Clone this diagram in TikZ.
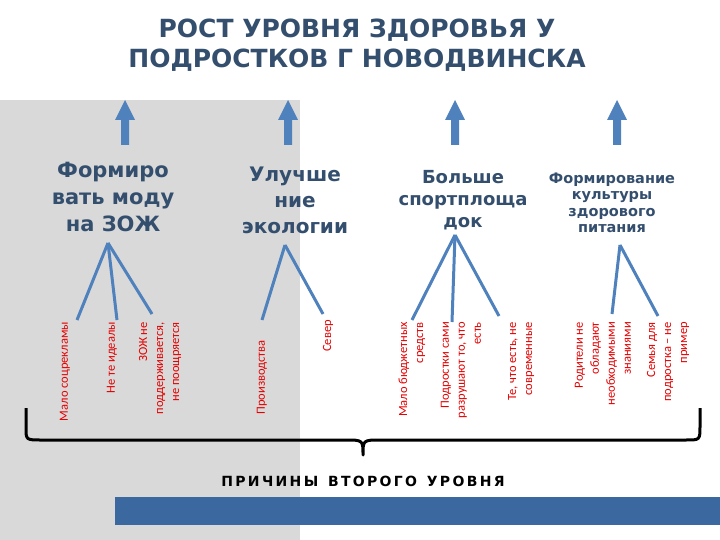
\documentclass[tikz,border=0pt]{standalone}
\usepackage{fontspec}
\setmainfont{Carlito}
\newfontfamily\hd{DejaVu Sans}
\definecolor{hc}{RGB}{52,78,110}
\definecolor{ac}{RGB}{79,129,189}
\definecolor{bc}{RGB}{60,104,160}
\begin{document}
\begin{tikzpicture}[x=1pt,y=-1pt,
  lbl/.style={rotate=90,anchor=east,align=right,text=red!90!black,font=\fontsize{12.5}{16}\selectfont,inner sep=0pt},
  hdg/.style={align=center,text=hc,font=\hd\bfseries,inner sep=0pt},
  cn/.style={draw=ac,line width=3pt},
  up/.style={fill=ac,draw=none}]
\useasboundingbox (0,0) rectangle (720,540);
\fill[black!15] (0,100) rectangle (300,540);
\fill[bc] (115,497) rectangle (720,525);
\node[hdg,font=\hd\bfseries\fontsize{25}{30}\selectfont] (title) at (357,45) {РОСТ УРОВНЯ ЗДОРОВЬЯ У\\ПОДРОСТКОВ Г НОВОДВИНСКА};
\foreach \x in {125,288,455,617}{
 \fill[up] (\x-4,145) -- (\x-4,120) -- (\x-10,120) -- (\x,100) -- (\x+10,120) -- (\x+4,120) -- (\x+4,145) -- cycle;}
\node[hdg,font=\hd\bfseries\fontsize{21}{27}\selectfont] (h1) at (113,197) {Формиро\\вать моду\\на ЗОЖ};
\node[hdg,font=\hd\bfseries\fontsize{20}{26}\selectfont] (h2) at (295,200) {Улучше\\ние\\экологии};
\node[hdg,font=\hd\bfseries\fontsize{18}{22}\selectfont] (h3) at (463,200) {Больше\\спортплоща\\док};
\node[hdg,font=\hd\bfseries\fontsize{14.5}{16.5}\selectfont] (h4) at (612,203) {Формирование\\культуры\\здорового\\питания};
\node[lbl] (a1) at (65,322) {Мало соцрекламы};
\node[lbl] (a2) at (112,322) {Не те идеалы};
\node[lbl] (a3) at (160,322) {ЗОЖ не\\поддерживается,\\не поощряется};
\node[lbl] (a4) at (262,340) {Производства};
\node[lbl] (a5) at (328,320) {Север};
\node[lbl] (a6) at (412,322) {Мало бюджетных\\средств};
\node[lbl] (a7) at (461,322) {Подростки сами\\разрушают то, что\\есть};
\node[lbl] (a8) at (521,322) {Те, что есть, не\\современные};
\node[lbl] (a9) at (603,322) {Родители не\\обладают\\необходимыми\\знаниями};
\node[lbl] (a10) at (668,322) {Семья для\\подростка – не\\пример};
\coordinate (t1) at (108,243); \coordinate (t2) at (285,245);
\coordinate (t3) at (455,235); \coordinate (t4) at (620,245);
\draw[cn] (t1)--(77,320); \draw[cn] (t1)--(117,320); \draw[cn] (t1)--(152,314);
\draw[cn] (t2)--(262,320); \draw[cn] (t2)--(323,314);
\draw[cn] (t3)--(412,320); \draw[cn] (t3)--(452,322); \draw[cn] (t3)--(499,316);
\draw[cn] (t4)--(612,314); \draw[cn] (t4)--(658,316);
\draw[black,line width=3pt,line join=round] (26,408) -- (26,428) .. controls (26,440) .. (42,440) -- (345,440) .. controls (363,440) .. (363,455) .. controls (363,440) .. (381,440) -- (686,440) .. controls (700,440) .. (700,426) -- (700,408);
\node[font=\hd\bfseries\fontsize{14}{16}\selectfont,inner sep=0pt] (p) at (363,481) {П\,Р\,И\,Ч\,И\,Н\,Ы\ \ В\,Т\,О\,Р\,О\,Г\,О\ \ У\,Р\,О\,В\,Н\,Я};
\end{tikzpicture}
\end{document}
